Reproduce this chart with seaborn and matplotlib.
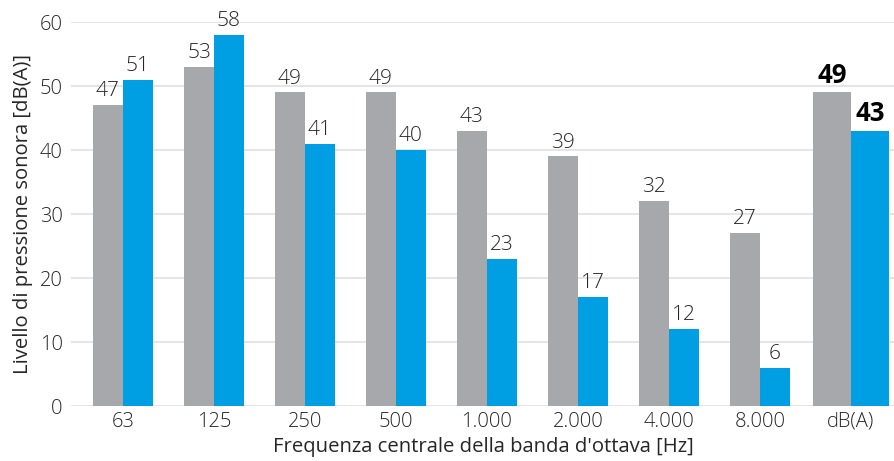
import matplotlib
matplotlib.use("Agg")
import matplotlib.pyplot as plt
import seaborn as sns
import pandas as pd

bande = ["63", "125", "250", "500", "1.000", "2.000", "4.000", "8.000", "dB(A)"]
livello_a = [47, 53, 49, 49, 43, 39, 32, 27, 49]
livello_b = [51, 58, 41, 40, 23, 17, 12, 6, 43]
serie = ["A", "B"]
colori = ["#A7A8AB", "#009FE3"]

df = pd.DataFrame({
    "banda": bande * 2,
    "livello": livello_a + livello_b,
    "serie": [serie[0]] * len(bande) + [serie[1]] * len(bande),
})

sns.set_theme(style="white")
plt.rcParams["font.family"] = ["Open Sans", "DejaVu Sans"]
plt.rcParams["font.weight"] = "light"
testo = "#262626"

fig = plt.figure(figsize=(8.95, 4.61), dpi=100)
ax = fig.add_axes([71 / 895, 1 - 406 / 461, 1 - 71 / 895, (406 - 22) / 461])

sns.barplot(data=df, x="banda", y="livello", hue="serie", order=bande,
            hue_order=serie, palette=colori, width=0.66, saturation=1,
            legend=False, ax=ax)

# wider bars for the overall dB(A) group
bar_w = 0.33
tot_w = 0.42
n = len(bande)
for k, p in enumerate(ax.patches[: 2 * n]):
    i = k % n
    s = k // n
    w = tot_w if i == n - 1 else bar_w
    p.set_x(i - w if s == 0 else i)
    p.set_width(w)
    p.set_edgecolor("none")
    p.set_linewidth(0)

valori = livello_a + livello_b
for k, p in enumerate(ax.patches[: 2 * n]):
    i = k % n
    val = valori[k]
    last = i == n - 1
    ax.text(p.get_x() + p.get_width() / 2, val + 0.6, f"{val}",
            ha="center", va="bottom",
            fontsize=18.5 if last else 15,
            fontweight="bold" if last else "light",
            color="#000000" if last else testo, clip_on=False)

ax.set_ylim(0, 60)
ax.set_xlim(-0.571, 8.484)
ax.set_yticks(range(0, 61, 10))
ax.yaxis.grid(True, color="#E3E3E3", linewidth=1.3)
ax.set_axisbelow(True)
for sp in ax.spines.values():
    sp.set_visible(False)
ax.tick_params(axis="both", length=0, labelsize=14.5, colors=testo)
ax.tick_params(axis="y", pad=6)
ax.tick_params(axis="x", pad=4)
ax.set_xlabel("Frequenza centrale della banda d'ottava [Hz]", fontsize=14.6,
              color=testo, labelpad=4)
ax.set_ylabel("Livello di pressione sonora [dB(A)]", fontsize=14.6,
              color=testo, labelpad=5)

fig.savefig("out.png", dpi=100)
